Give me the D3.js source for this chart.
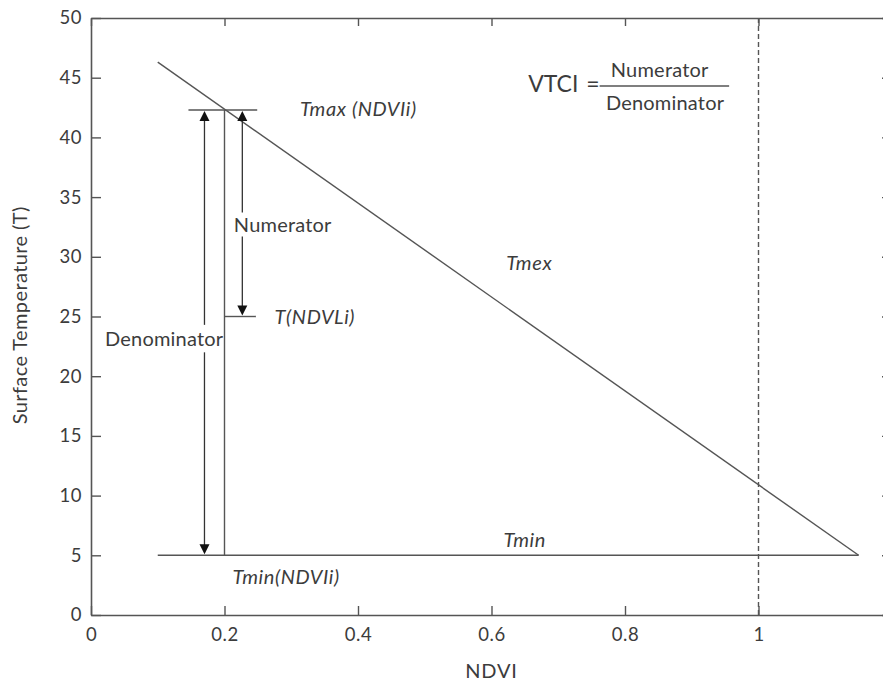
<!DOCTYPE html>
<html>
<head>
<meta charset="utf-8">
<script src="https://cdn.jsdelivr.net/npm/d3@7"></script>
<style>
  body { margin: 0; background: #fff; }
  svg text { font-family: Lato, "Open Sans", sans-serif; fill: #3c3c3c; }
</style>
</head>
<body>
<svg width="883" height="682"></svg>
<script>
// chart values
var xTicks = [0, 0.2, 0.4, 0.6, 0.8, 1]
var yTicks = [0, 5, 10, 15, 20, 25, 30, 35, 40, 45, 50]
var dryEdge = [[0.1, 46.3], [1.15, 5]]   // Tmax line
var wetEdge = [[0.1, 5], [1.15, 5]]      // Tmin line
var ndviI = 0.2
var tmaxI = 42.3
var tI = 25
var tminI = 5
var ndviRef = 1

var svg = d3.select("svg"),
  mLeft = 91, mTop = 18, width = 801, height = 597

var x = d3.scaleLinear().domain([0, 1.2]).range([0, width])
var y = d3.scaleLinear().domain([0, 50]).range([height, 0])

var g = svg.append("g").attr("transform", "translate(" + mLeft + "," + mTop + ")")
var ink = "#555"

function fmt(d) { return d == 0 ? "0" : d3.format("~g")(d) }

// axes, ticks pointing inward
g.append("g").attr("transform", "translate(0," + height + ")")
  .call(d3.axisBottom(x).tickValues(xTicks).tickSize(-9).tickSizeOuter(0).tickPadding(13).tickFormat(fmt))
g.append("g")
  .call(d3.axisTop(x).tickValues(xTicks).tickSize(-8).tickSizeOuter(0).tickFormat(""))
g.append("g")
  .call(d3.axisLeft(y).tickValues(yTicks).tickSize(-10).tickSizeOuter(0).tickPadding(9).tickFormat(fmt))
g.append("g").attr("transform", "translate(" + width + ",0)")
  .call(d3.axisRight(y).tickValues(yTicks).tickSize(-10).tickSizeOuter(0).tickFormat(""))

g.selectAll(".domain").attr("stroke", ink).attr("stroke-width", 1.6)
g.selectAll(".tick line").attr("stroke", ink).attr("stroke-width", 1.4)
g.selectAll(".tick text").attr("font-size", "18.5px").attr("fill", "#3c3c3c")
  .attr("letter-spacing", "0.5px")
  .style("font-family", "Lato, sans-serif")

// axis titles
svg.append("text")
  .attr("x", mLeft + x(0.6)).attr("y", 678)
  .attr("text-anchor", "middle").attr("font-size", "20px").attr("letter-spacing", "0.8px")
  .text("NDVI")
svg.append("text")
  .attr("transform", "translate(27," + (mTop + y(25.1)) + ") rotate(-90)")
  .attr("text-anchor", "middle").attr("font-size", "20px").attr("letter-spacing", "0.4px")
  .text("Surface Temperature (T)")

var line = d3.line().x(function(d) { return x(d[0]) }).y(function(d) { return y(d[1]) })

// reference line at NDVI = 1
g.append("line")
  .attr("x1", x(ndviRef)).attr("x2", x(ndviRef))
  .attr("y1", y(50)).attr("y2", y(0))
  .attr("stroke", ink).attr("stroke-width", 1.4)
  .attr("stroke-dasharray", "5,3")

g.append("path").attr("d", line(dryEdge))
  .attr("fill", "none").attr("stroke", ink).attr("stroke-width", 1.4)
g.append("path").attr("d", line(wetEdge))
  .attr("fill", "none").attr("stroke", ink).attr("stroke-width", 1.6)

// construction lines at NDVIi
g.append("path").attr("d", line([[ndviI, tminI], [ndviI, tmaxI]]))
  .attr("fill", "none").attr("stroke", ink).attr("stroke-width", 1.4)
g.append("path").attr("d", line([[0.146, tmaxI], [0.249, tmaxI]]))
  .attr("fill", "none").attr("stroke", ink).attr("stroke-width", 1.4)
g.append("path").attr("d", line([[ndviI, tI], [0.247, tI]]))
  .attr("fill", "none").attr("stroke", ink).attr("stroke-width", 1.4)

// double headed arrows, with a gap left for the label
function arrow(xv, y0, y1, gapY0, gapY1) {
  var a = g.append("g")
  var px = x(xv), pTop = y(y1), pBot = y(y0)
  a.append("line").attr("x1", px).attr("x2", px)
    .attr("y1", pTop + 8).attr("y2", y(gapY0))
    .attr("stroke", "#333").attr("stroke-width", 1.3)
  a.append("line").attr("x1", px).attr("x2", px)
    .attr("y1", y(gapY1)).attr("y2", pBot - 8)
    .attr("stroke", "#333").attr("stroke-width", 1.3)
  a.append("path")
    .attr("d", "M" + px + "," + (pTop + 1) + "l-5,10h10z").attr("fill", "#111")
  a.append("path")
    .attr("d", "M" + px + "," + (pBot - 1) + "l-5,-10h10z").attr("fill", "#111")
}
arrow(0.17, tminI, tmaxI, 24.3, 22.0)
arrow(0.2267, tI, tmaxI, 33.7, 31.7)

var italic = [
  ["Tmax (NDVIi)", 0.313, 41.8],
  ["T(NDVLi)", 0.275, 24.4],
  ["Tmex", 0.622, 28.9],
  ["Tmin", 0.618, 5.7],
  ["Tmin(NDVIi)", 0.212, 2.6]
]
g.selectAll(".lab").data(italic).enter().append("text")
  .attr("class", "lab")
  .attr("x", function(d) { return x(d[1]) })
  .attr("y", function(d) { return y(d[2]) })
  .attr("font-size", "20px").attr("font-style", "italic").attr("letter-spacing", "0.6px")
  .text(function(d) { return d[0] })

g.append("text").attr("x", x(0.021)).attr("y", y(22.5))
  .attr("font-size", "20px").attr("letter-spacing", "0.2px").text("Denominator")
g.append("text").attr("x", x(0.214)).attr("y", y(32.1))
  .attr("font-size", "20px").attr("letter-spacing", "0.2px").text("Numerator")

// formula
g.append("text").attr("x", x(0.655)).attr("y", y(43.8))
  .attr("font-size", "23px").text("VTCI")
g.append("text").attr("x", x(0.742)).attr("y", y(43.8))
  .attr("font-size", "23px").text("=")
g.append("line").attr("x1", x(0.762)).attr("x2", x(0.956))
  .attr("y1", y(44.3)).attr("y2", y(44.3))
  .attr("stroke", ink).attr("stroke-width", 1.4)
g.append("text").attr("x", x(0.852)).attr("y", y(45.05))
  .attr("text-anchor", "middle").attr("font-size", "20px").attr("letter-spacing", "0.2px").text("Numerator")
g.append("text").attr("x", x(0.86)).attr("y", y(42.3))
  .attr("text-anchor", "middle").attr("font-size", "20px").attr("letter-spacing", "0.2px").text("Denominator")
</script>
</body>
</html>
